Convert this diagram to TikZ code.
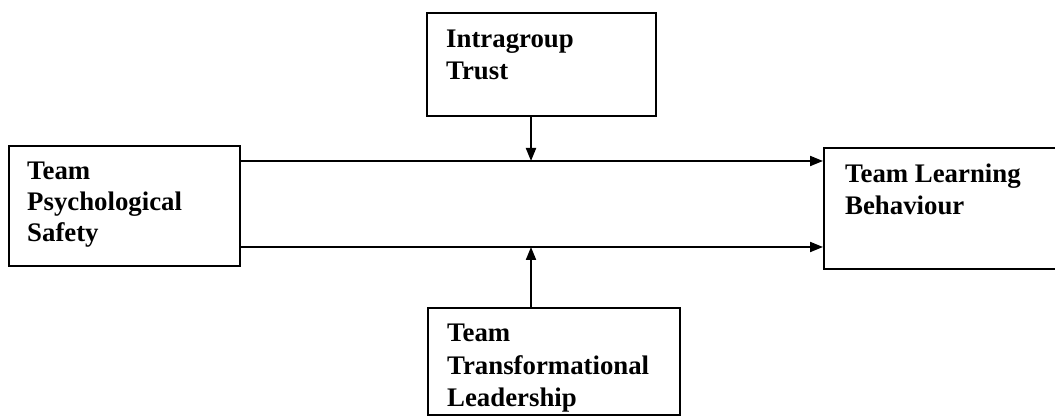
\documentclass[tikz,border=0pt]{standalone}
\usepackage{fontspec}
\setmainfont{Liberation Serif}
\usetikzlibrary{arrows.meta}
\begin{document}
\begin{tikzpicture}[x=1pt,y=1pt,
  box/.style={draw=black, line width=2pt, inner sep=0pt},
  lbl/.style={inner sep=0pt, anchor=base west, align=left,
    font=\fontsize{26.8pt}{31pt}\selectfont\bfseries},
  arr/.style={draw=black, line width=2pt, -{Triangle[length=13pt,width=10pt]}}]
\useasboundingbox (0,0) rectangle (1055,417);
\clip (0,0) rectangle (1055,417);
\fill[white] (0,0) rectangle (1055,417);
% boxes
\node[box, minimum width=231pt, minimum height=120pt] (L) at (124.5,211) {};
\node[box, minimum width=229pt, minimum height=103pt] (T) at (541.5,352.5) {};
\node[box, minimum width=246pt, minimum height=121pt] (R) at (947,208.5) {};
\node[box, minimum width=252pt, minimum height=107pt] (B) at (554,55.5) {};
% labels
\node[lbl] (tL) at (27,175) {Team\\Psychological\\Safety};
\node[lbl, font=\fontsize{26.8pt}{32pt}\selectfont\bfseries] (tT) at (446,337) {Intragroup\\Trust};
\node[lbl, font=\fontsize{26.8pt}{32pt}\selectfont\bfseries] (tR) at (845,202) {Team Learning\\Behaviour};
\node[lbl, font=\fontsize{26.8pt}{32.5pt}\selectfont\bfseries] (tB) at (447,10) {Team\\Transformational\\Leadership};
% junctions
\coordinate (m1) at (531,256);
\coordinate (m2) at (531,170);
% connectors
\draw[arr] (L.east |- m1) -- (R.west |- m1);
\draw[arr] (L.east |- m2) -- (R.west |- m2);
\draw[arr] (T.south -| m1) -- (m1);
\draw[arr] (B.north -| m2) -- (m2);
\end{tikzpicture}
\end{document}
